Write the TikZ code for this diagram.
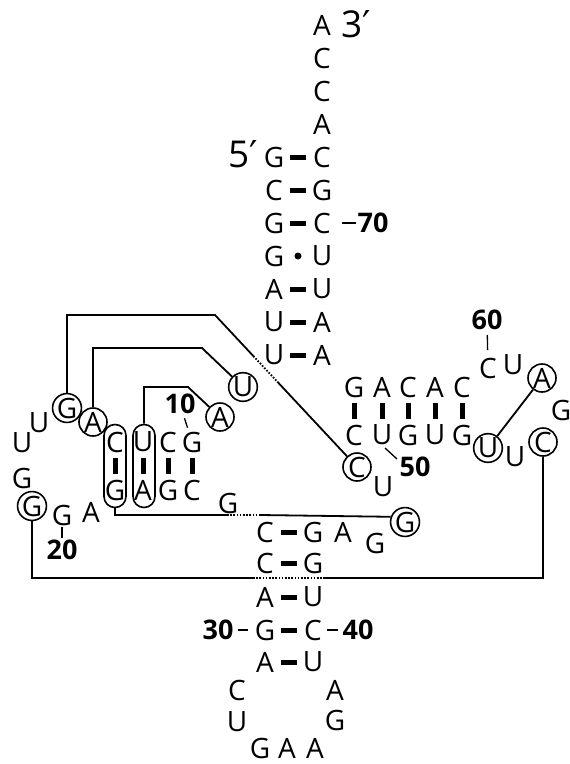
\documentclass[tikz,border=0pt]{standalone}
\usepackage{fontspec}
\setmainfont{Open Sans}
\newfontfamily\primefont{DejaVu Sans}
\usetikzlibrary{calc}

\begin{document}
\begin{tikzpicture}[x=1pt, y=-1pt, font=\fontsize{28}{28}\selectfont]
  \tikzset{nt/.style={inner sep=1pt},
    ring/.style={circle, draw, line width=1.6pt, minimum size=28pt, inner sep=0pt},
    oval/.style={draw, line width=1.6pt, rounded corners=11pt, minimum width=22pt, minimum height=83pt},
    num/.style={inner sep=1pt, font=\fontsize{27}{27}\selectfont\bfseries},
    endlabel/.style={inner sep=1pt, font=\fontsize{37}{37}\selectfont},
    wc/.style={line width=5pt, shorten <=16pt, shorten >=16pt},
    gu/.style={circle, fill, inner sep=0pt, minimum size=7pt},
    tline/.style={line width=1.8pt},
    dline/.style={line width=1.8pt, dash pattern=on 1.6pt off 1.6pt},
    tick/.style={line width=1.3pt}}
  \useasboundingbox (0,0) rectangle (570,764);

  % acceptor stem
  \node[nt] (g1) at (274,157) {G};   \node[nt] (c72) at (322,157) {C};
  \node[nt] (c2) at (274,190) {C};   \node[nt] (g71) at (322,190) {G};
  \node[nt] (g3) at (274,223) {G};   \node[nt] (c70) at (322,223) {C};
  \node[nt] (g4) at (274,256) {G};   \node[nt] (u69) at (322,256) {U};
  \node[nt] (a5) at (274,289) {A};   \node[nt] (u68) at (322,289) {U};
  \node[nt] (u6) at (274,322) {U};   \node[nt] (a67) at (322,322) {A};
  \node[nt] (u7) at (274,355) {U};   \node[nt] (a66) at (322,355) {A};
  \node[nt] (a73) at (322,124) {A};
  \node[nt] (c74) at (322,91) {C};
  \node[nt] (c75) at (322,58) {C};
  \node[nt] (a76) at (322,25) {A};
  \node[endlabel] (p3) at (356,24) {3{\primefont ′}};
  \node[endlabel] (p5) at (243,154) {5{\primefont ′}};
  \node[num] (n70) at (373,223) {70};

  % D arm
  \node[ring] (u8) at (243,387) {U};
  \node[ring] (a9) at (220,417) {A};
  \node[nt] (g10) at (192,442) {G};
  \node[nt] (c11) at (168,442) {C};
  \node[nt] (u12) at (143,442) {U};
  \node[nt] (c13) at (115,442) {C};
  \node[ring] (a14) at (93,422) {A};
  \node[ring] (g15) at (67,408) {G};
  \node[nt] (u16) at (39,423) {U};
  \node[nt] (u17) at (22,443) {U};
  \node[nt] (g18) at (22,478) {G};
  \node[ring] (g19) at (32,506) {G};
  \node[nt] (g20) at (62,515) {G};
  \node[nt] (a21) at (91,512) {A};
  \node[nt] (g22) at (115,490) {G};
  \node[nt] (a23) at (143,490) {A};
  \node[nt] (g24) at (168,490) {G};
  \node[nt] (c25) at (192,490) {C};
  \node[nt] (g26) at (228,503) {G};
  \node[oval] (o13) at (115,466) {};
  \node[oval] (o12) at (144,466) {};
  \node[num] (n10) at (180,404) {10};
  \node[num] (n20) at (62,550) {20};

  % anticodon arm
  \node[nt] (c27) at (265,532) {C};  \node[nt] (g43) at (313,532) {G};
  \node[nt] (c28) at (265,563) {C};  \node[nt] (g42) at (313,563) {G};
  \node[nt] (a29) at (265,597) {A};  \node[nt] (u41) at (313,597) {U};
  \node[nt] (g30) at (265,630) {G};  \node[nt] (c40) at (313,630) {C};
  \node[nt] (a31) at (265,662) {A};  \node[nt] (u39) at (313,662) {U};
  \node[nt] (c32) at (237,690) {C};  \node[nt] (a38) at (335,690) {A};
  \node[nt] (u33) at (237,722) {U};  \node[nt] (g37) at (335,720) {G};
  \node[nt] (g34) at (260,748) {G};
  \node[nt] (a35) at (287,748) {A};
  \node[nt] (a36) at (315,748) {A};
  \node[nt] (a44) at (343,532) {A};
  \node[nt] (g45) at (375,543) {G};
  \node[ring] (g46) at (405,522) {G};
  \node[num] (n30) at (218,630) {30};
  \node[num] (n40) at (358,630) {40};

  % variable loop and T arm
  \node[nt] (u47) at (383,487) {U};
  \node[ring] (c48) at (357,467) {C};
  \node[nt] (c49) at (354,435) {C};  \node[nt] (g65) at (354,387) {G};
  \node[nt] (u50) at (382,435) {U};  \node[nt] (a64) at (382,387) {A};
  \node[nt] (g51) at (408,435) {G};  \node[nt] (c63) at (408,387) {C};
  \node[nt] (u52) at (435,435) {U};  \node[nt] (a62) at (435,387) {A};
  \node[nt] (g53) at (462,435) {G};  \node[nt] (c61) at (462,387) {C};
  \node[ring] (u54) at (488,448) {U};
  \node[nt] (u55) at (515,457) {U};
  \node[ring] (c56) at (543,442) {C};
  \node[nt] (g57) at (561,410) {G};
  \node[ring] (a58) at (542,378) {A};
  \node[nt] (u59) at (513,365) {U};
  \node[nt] (c60) at (488,368) {C};
  \node[num] (n50) at (415,467) {50};
  \node[num] (n60) at (487,320) {60};

  % base pairs
  \foreach \a/\b in {g1/c72, c2/g71, g3/c70, a5/u68, u6/a67, u7/a66,
      c13/g22, u12/a23, c11/g24, g10/c25,
      c27/g43, c28/g42, a29/u41, g30/c40, a31/u39,
      g65/c49, a64/u50, c63/g51, a62/u52, c61/g53}
    \draw[wc] (\a.center) -- (\b.center);
  \path (g4) -- node[gu] {} (u69);

  % number ticks
  \draw[tick, shorten <=20pt, shorten >=17pt] (c70.center) -- (n70.center);
  \draw[tick, shorten <=15pt, shorten >=15pt] (n10.center) -- (g10.center);
  \draw[tick, shorten <=12pt, shorten >=12pt] (g20.center) -- (n20.center);
  \draw[tick, shorten <=20pt, shorten >=17pt] (n30.center) -- (g30.center);
  \draw[tick, shorten <=14pt, shorten >=20pt] (c40.center) -- (n40.center);
  \draw[tick] ($(u50.center)+(3,13)$) -- ($(u50.center)+(15,24)$);
  \draw[tick, shorten <=15pt, shorten >=18pt] (n60.center) -- (c60.center);

  % tertiary contacts
  \coordinate (k1) at (188,387);
  \coordinate (k2) at (202,348);
  \coordinate (k3) at (215,315);
  \coordinate (k3a) at ($(k3)!0.27!(c48)$);
  \coordinate (k3b) at ($(k3)!0.44!(c48)$);
  \coordinate (k4) at (227,515);
  \coordinate (k5) at (260,515);
  \coordinate (k6) at (253,578);
  \coordinate (k7) at (323,578);
  \draw[tline] (o12.north) |- (k1) -- (a9);
  \draw[tline] (a14.north) |- (k2) -- (u8);
  \draw[tline] (g15.north) |- (k3) -- (k3a);
  \draw[dline] (k3a) -- (k3b);
  \draw[tline] (k3b) -- (c48);
  \draw[tline] (o13.south) |- (k4);
  \draw[dline] (k4) -- (k5);
  \draw[tline] (k5) -- (g46.160);
  \draw[tline] (g19.south) |- (k6);
  \draw[dline] (k6) -- (k7);
  \draw[tline] (k7) -| (c56.south);
  \draw[tline] (u54) -- (a58);
\end{tikzpicture}
\end{document}
